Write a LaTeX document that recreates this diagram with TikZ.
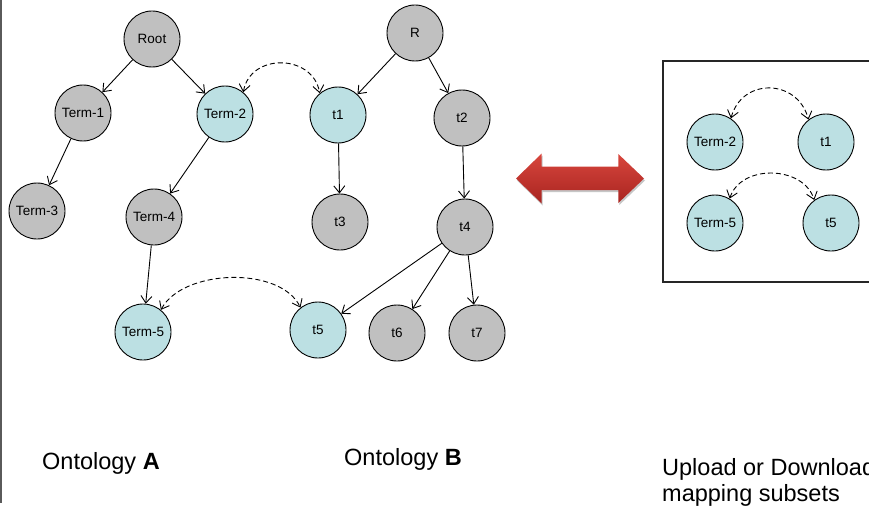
\documentclass[tikz,border=0pt]{standalone}
\usepackage{fontspec}
\setmainfont{Liberation Sans}
\usetikzlibrary{arrows.meta}
\definecolor{termgray}{HTML}{C0C0C0}
\definecolor{termcyan}{HTML}{BCE0E3}
\definecolor{arrowtop}{HTML}{D8463D}
\definecolor{arrowbot}{HTML}{A82420}
\definecolor{framegray}{HTML}{5A5A5A}
\begin{document}
\begin{tikzpicture}[x=1pt,y=1pt,
  term/.style={circle,draw=black,line width=0.9pt,minimum size=56pt,inner sep=0pt,
    font=\fontsize{13.5}{16}\selectfont},
  plainterm/.style={term,fill=termgray},
  mappedterm/.style={term,fill=termcyan},
  isa/.style={-{Straight Barb[length=7pt,width=11pt]},line width=0.9pt},
  maps/.style={{Straight Barb[length=7pt,width=11pt]}-{Straight Barb[length=7pt,width=11pt]},
    dash pattern=on 5pt off 3pt,line width=0.9pt},
  caption/.style={anchor=base west,inner sep=0pt,font=\fontsize{23.5}{26}\selectfont}]
\useasboundingbox (0,0) rectangle (869,-508);
\clip (0,0) rectangle (869,-508);

% left frame line
\draw[framegray,line width=2pt] (1,0) -- (1,-503);

% Ontology A
\node[plainterm]  (root)  at (152,-39)  {Root};
\node[plainterm]  (term1) at (83,-113)  {Term-1};
\node[mappedterm] (term2) at (225,-114) {Term-2};
\node[plainterm]  (term3) at (37,-211)  {Term-3};
\node[plainterm]  (term4) at (154,-217) {Term-4};
\node[mappedterm] (term5) at (143,-332) {Term-5};

% Ontology B
\node[plainterm]  (r)  at (415,-33)  {R};
\node[mappedterm] (t1) at (338,-115) {t1};
\node[plainterm]  (t2) at (462,-118) {t2};
\node[plainterm]  (t3) at (340,-222) {t3};
\node[plainterm]  (t4) at (465,-227) {t4};
\node[mappedterm] (t5) at (318,-330) {t5};
\node[plainterm]  (t6) at (397,-333) {t6};
\node[plainterm]  (t7) at (477,-333) {t7};

% hierarchy edges
\draw[isa] (root) -- (term1);
\draw[isa] (root) -- (term2);
\draw[isa] (term1) -- (term3);
\draw[isa] (term2) -- (term4);
\draw[isa] (term4) -- (term5);
\draw[isa] (r) -- (t1);
\draw[isa] (r) -- (t2);
\draw[isa] (t1) -- (t3);
\draw[isa] (t2) -- (t4);
\draw[isa] (t4) -- (t5);
\draw[isa] (t4) -- (t6);
\draw[isa] (t4) -- (t7);

% mappings between the ontologies
\draw[maps] (term2.50) to[out=80,in=100,looseness=1.34] (t1.130);
\draw[maps] (term5.51) to[out=62,in=116,looseness=0.85] (t5.128);

% exchange arrow (soft shadow, then shaded body)
\foreach \s/\o in {3/0.06,2/0.08,1/0.10}{
  \fill[black,opacity=\o,shift={(1,-2)},line join=round,line width=\s pt]
    (516,-178.5) -- (541.7,-153.5) -- (541.7,-166.7) -- (618.3,-166.7) -- (618.3,-154)
    -- (644,-178.5) -- (618.3,-203) -- (618.3,-190) -- (541.7,-190) -- (541.7,-203.5) -- cycle;
}
\shade[top color=arrowtop,bottom color=arrowbot]
  (516,-178.5) -- (541.7,-153.5) -- (541.7,-166.7) -- (618.3,-166.7) -- (618.3,-154)
  -- (644,-178.5) -- (618.3,-203) -- (618.3,-190) -- (541.7,-190) -- (541.7,-203.5) -- cycle;

% mapping subset panel
\draw[black!85,line width=1.3pt] (880,-61) -- (663,-61) -- (663,-282) -- (880,-282);
\node[mappedterm] (sterm2) at (715,-142) {Term-2};
\node[mappedterm] (st1)    at (826,-142) {t1};
\node[mappedterm] (sterm5) at (715,-223) {Term-5};
\node[mappedterm] (st5)    at (831,-223) {t5};
\draw[maps] (sterm2.56) to[out=75,in=105,looseness=1.4] (st1.128);
\draw[maps] (sterm5.59) to[out=72,in=108,looseness=1.1] (st5.126);

% captions
\node[caption] (capa) at (42,-469)  {Ontology \textbf{A}};
\node[caption] (capb) at (344,-465) {Ontology \textbf{B}};
\node[caption] (capc) at (662,-475) {Upload or Download};
\node[caption] (capd) at (662,-501) {mapping subsets};
\end{tikzpicture}
\end{document}
